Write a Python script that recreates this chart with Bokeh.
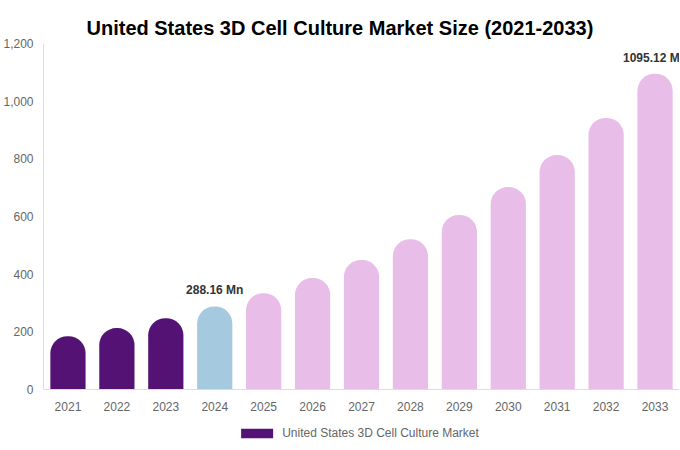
from bokeh.plotting import figure
from bokeh.layouts import column
from bokeh.models import (ColumnDataSource, FixedTicker, NumeralTickFormatter,
                          Legend, LegendItem)
from bokeh.core.properties import value
from bokeh.embed import file_html
from bokeh.resources import INLINE

years = ["2021", "2022", "2023", "2024", "2025", "2026", "2027",
         "2028", "2029", "2030", "2031", "2032", "2033"]
market = [185, 213, 247, 288.16, 334, 387, 449, 521, 605, 702, 813, 942, 1095.12]
phase = ["hist", "hist", "hist", "base", "fc", "fc", "fc", "fc", "fc", "fc", "fc", "fc", "fc"]
label_years = ["2024", "2033"]
label_values = [288.16, 1095.12]
label_texts = ["288.16 Mn", "1095.12 Mn"]
y_ticks = [0, 200, 400, 600, 800, 1000, 1200]
series_name = "United States 3D Cell Culture Market"
title_text = "United States 3D Cell Culture Market Size (2021-2033)"

palette = {"hist": "#541374", "base": "#A5CADF", "fc": "#E8BDE8"}
colors = [palette[k] for k in phase]

src = ColumnDataSource(dict(x=years, top=market, color=colors))

p = figure(frame_width=636, frame_height=346, x_range=years, y_range=(0, 1200),
           output_backend="svg", toolbar_location=None,
           min_border_left=30, min_border_right=0, min_border_top=43,
           min_border_bottom=0)
p.title.text = title_text
p.title.align = "left"
p.title.offset = 43
p.title.text_font = "Liberation Sans"
p.title.text_font_size = "20px"
p.title.text_font_style = "bold"
p.title.text_color = "#000000"

p.vbar(x="x", top="top", width=0.72, source=src, fill_color="color",
       line_color=None, border_radius=(17, 17, 0, 0))

p.text(x=label_years, y=label_values, text=label_texts, y_offset=-9,
       text_align="center", text_baseline="bottom",
       text_font=value("Liberation Sans"), text_font_size="12px",
       text_font_style="bold", text_color="#333333")

p.grid.visible = False
p.outline_line_color = None
for ax in (p.xaxis[0], p.yaxis[0]):
    ax.axis_line_color = "#dddddd"
    ax.major_tick_line_color = None
    ax.minor_tick_line_color = None
    ax.major_label_text_font = "Liberation Sans"
    ax.major_label_text_font_size = "12px"
    ax.major_label_text_color = "#666666"
p.yaxis[0].ticker = FixedTicker(ticks=y_ticks)
p.yaxis[0].formatter = NumeralTickFormatter(format="0,0")
p.yaxis[0].major_label_standoff = 4
p.xaxis[0].major_label_standoff = 6

# legend strip below the chart
p2 = figure(width=672, height=40, x_range=(0, 1), y_range=(0, 1),
            output_backend="svg", toolbar_location=None,
            x_axis_type=None, y_axis_type=None,
            min_border_left=0, min_border_right=0, min_border_top=0,
            min_border_bottom=0)
p2.grid.visible = False
p2.outline_line_color = None
dummy = p2.rect(x=[-5], y=[-5], width=0.1, height=0.1,
                fill_color=palette["hist"], line_color=None)
legend = Legend(items=[LegendItem(label=series_name, renderers=[dummy])],
                orientation="horizontal", glyph_width=40, glyph_height=12,
                label_text_font="Liberation Sans", label_text_font_size="12px",
                label_text_color="#666666", border_line_color=None,
                background_fill_alpha=0, padding=0, margin=0, spacing=0,
                label_standoff=6, location="center", label_height=12)
p2.add_layout(legend, "center")

layout = column(p, p2, spacing=0)
open("out.html", "w").write(file_html(layout, INLINE))
